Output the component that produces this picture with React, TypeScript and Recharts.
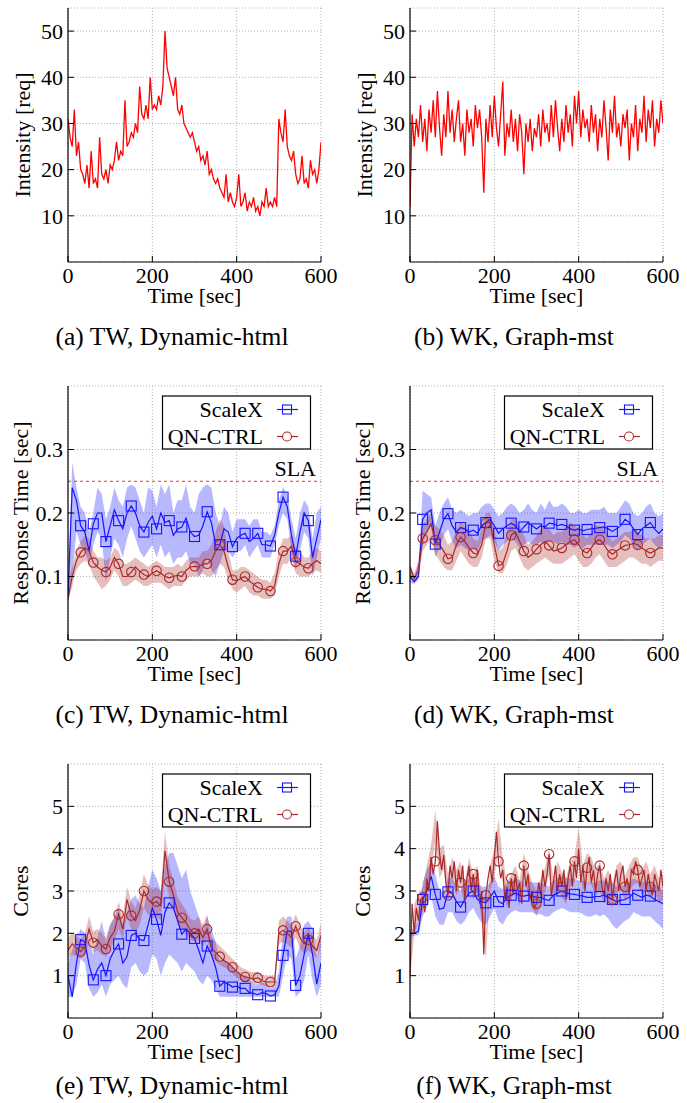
import React from 'react';
import { ComposedChart, Line, Area, XAxis, YAxis, CartesianGrid, ReferenceLine } from 'recharts';

const FONT = '"Liberation Serif", "Times New Roman", serif';
const RED = '#ff0000';
const BLUE = '#1414ff';
const BROWN = '#aa2828';

// x grid of the samples (seconds)
const INT_STEP = 5;
const STEP = 10;
const FINE_STEP = 5;
const X_TICKS = [0, 200, 400, 600];
const SLA = 0.25;

// (a) / (b) request intensity, one value every 5 s
const twIntensity = [
  31, 27, 25, 33, 23, 26, 20, 19, 17, 21,
  16, 24, 17, 18, 16, 27, 19, 18, 20, 17,
  21, 20, 22, 26, 22, 24, 23, 35, 25, 26,
  28, 27, 30, 28, 38, 32, 31, 34, 31, 40,
  33, 34, 33, 36, 34, 38, 50, 42, 40, 38,
  36, 40, 33, 32, 34, 30, 29, 28, 27, 28,
  26, 24, 25, 22, 23, 21, 24, 19, 20, 18,
  17, 18, 16, 15, 14, 19, 13, 15, 13, 12,
  14, 19, 12, 13, 15, 11, 13, 12, 14, 11,
  12, 10, 13, 12, 16, 12, 13, 12, 14, 12,
  31, 28, 26, 33, 25, 23, 22, 24, 19, 17,
  18, 23, 17, 18, 16, 22, 19, 20, 17, 20,
  26,
];
const wkIntensity = [
  12, 32, 25, 31, 27, 34, 26, 31, 24, 33,
  28, 35, 27, 37, 29, 23, 32, 27, 37, 28,
  33, 26, 31, 35, 26, 30, 23, 33, 28, 31,
  25, 34, 29, 33, 27, 15, 31, 26, 34, 27,
  36, 29, 25, 32, 39, 23, 30, 27, 33, 26,
  31, 24, 32, 28, 19, 30, 26, 31, 24, 29,
  27, 32, 25, 33, 28, 30, 26, 34, 27, 35,
  29, 24, 31, 26, 34, 28, 32, 25, 36, 30,
  37, 27, 33, 29, 31, 26, 34, 28, 32, 24,
  31, 27, 35, 29, 22, 33, 28, 36, 27, 30,
  25, 32, 29, 33, 22, 30, 27, 34, 24, 31,
  28, 36, 26, 33, 29, 35, 25, 31, 28, 35,
  30,
];

// (c) TW response time, one value every 10 s
const twRtSx = [
  0.07, 0.24, 0.22, 0.18, 0.17, 0.14, 0.183, 0.2, 0.2, 0.155,
  0.18, 0.205, 0.188, 0.175, 0.2, 0.211, 0.2, 0.18, 0.17, 0.185,
  0.195, 0.175, 0.2, 0.185, 0.188, 0.165, 0.175, 0.178, 0.192, 0.17,
  0.163, 0.165, 0.18, 0.202, 0.185, 0.15, 0.15, 0.175, 0.17, 0.147,
  0.16, 0.165, 0.168, 0.155, 0.16, 0.168, 0.15, 0.15, 0.148, 0.165,
  0.2, 0.225, 0.21, 0.165, 0.132, 0.17, 0.2, 0.188, 0.13, 0.16,
  0.19,
];
const twRtSxLo = [
  0.06, 0.1, 0.17, 0.15, 0.14, 0.12, 0.15, 0.17, 0.16, 0.09,
  0.13, 0.16, 0.15, 0.13, 0.16, 0.18, 0.16, 0.14, 0.13, 0.14,
  0.15, 0.13, 0.15, 0.13, 0.14, 0.12, 0.13, 0.13, 0.14, 0.12,
  0.12, 0.1, 0.11, 0.13, 0.11, 0.1, 0.12, 0.14, 0.14, 0.13,
  0.14, 0.14, 0.15, 0.13, 0.14, 0.15, 0.13, 0.13, 0.13, 0.15,
  0.18, 0.2, 0.19, 0.14, 0.11, 0.14, 0.17, 0.16, 0.1, 0.13,
  0.16,
];
const twRtSxHi = [
  0.08, 0.28, 0.24, 0.21, 0.2, 0.17, 0.2, 0.24, 0.23, 0.19,
  0.21, 0.24, 0.22, 0.21, 0.24, 0.245, 0.24, 0.22, 0.2, 0.24,
  0.235, 0.21, 0.245, 0.23, 0.245, 0.2, 0.22, 0.22, 0.245, 0.21,
  0.2, 0.23, 0.24, 0.245, 0.24, 0.2, 0.18, 0.21, 0.2, 0.17,
  0.19, 0.19, 0.19, 0.18, 0.19, 0.19, 0.17, 0.17, 0.165, 0.18,
  0.22, 0.24, 0.23, 0.19, 0.16, 0.2, 0.22, 0.21, 0.16, 0.2,
  0.21,
];
const twRtQn = [
  0.065, 0.1, 0.125, 0.138, 0.145, 0.14, 0.122, 0.115, 0.11, 0.107,
  0.115, 0.13, 0.12, 0.1, 0.1, 0.107, 0.115, 0.108, 0.103, 0.1,
  0.105, 0.109, 0.105, 0.1, 0.098, 0.1, 0.102, 0.1, 0.11, 0.115,
  0.116, 0.115, 0.12, 0.12, 0.125, 0.14, 0.15, 0.14, 0.115, 0.095,
  0.093, 0.097, 0.1, 0.093, 0.088, 0.083, 0.08, 0.08, 0.077, 0.085,
  0.12, 0.14, 0.14, 0.148, 0.123, 0.12, 0.115, 0.113, 0.12, 0.125,
  0.12,
];
const twRtQnLo = [
  0.06, 0.085, 0.11, 0.12, 0.125, 0.12, 0.1, 0.09, 0.08, 0.085,
  0.095, 0.11, 0.1, 0.085, 0.085, 0.09, 0.095, 0.09, 0.085, 0.085,
  0.09, 0.09, 0.09, 0.085, 0.08, 0.085, 0.085, 0.085, 0.095, 0.1,
  0.1, 0.1, 0.105, 0.1, 0.1, 0.11, 0.12, 0.115, 0.095, 0.08,
  0.075, 0.08, 0.085, 0.075, 0.07, 0.07, 0.065, 0.065, 0.065, 0.07,
  0.1, 0.12, 0.12, 0.13, 0.105, 0.1, 0.1, 0.1, 0.105, 0.11,
  0.105,
];
const twRtQnHi = [
  0.09, 0.115, 0.14, 0.155, 0.165, 0.16, 0.14, 0.13, 0.13, 0.125,
  0.13, 0.145, 0.14, 0.12, 0.12, 0.125, 0.13, 0.125, 0.12, 0.115,
  0.12, 0.125, 0.12, 0.115, 0.115, 0.115, 0.12, 0.115, 0.125, 0.13,
  0.13, 0.13, 0.14, 0.14, 0.15, 0.17, 0.19, 0.18, 0.14, 0.11,
  0.11, 0.115, 0.115, 0.11, 0.105, 0.1, 0.095, 0.095, 0.09, 0.105,
  0.14, 0.16, 0.16, 0.165, 0.145, 0.14, 0.13, 0.13, 0.14, 0.145,
  0.14,
];

// (d) WK response time
const wkRtSx = [
  0.1, 0.092, 0.1, 0.19, 0.2, 0.205, 0.151, 0.17, 0.19, 0.199,
  0.18, 0.17, 0.177, 0.175, 0.17, 0.173, 0.168, 0.18, 0.185, 0.19,
  0.18, 0.168, 0.175, 0.18, 0.184, 0.18, 0.17, 0.178, 0.185, 0.18,
  0.175, 0.18, 0.178, 0.184, 0.183, 0.18, 0.182, 0.18, 0.175, 0.173,
  0.175, 0.172, 0.174, 0.175, 0.176, 0.177, 0.178, 0.175, 0.171, 0.175,
  0.18, 0.19, 0.185, 0.175, 0.166, 0.175, 0.18, 0.185, 0.175, 0.168,
  0.175,
];
const wkRtSxLo = [
  0.09, 0.088, 0.095, 0.15, 0.17, 0.18, 0.13, 0.145, 0.165, 0.175,
  0.155, 0.145, 0.15, 0.145, 0.14, 0.145, 0.14, 0.155, 0.16, 0.165,
  0.155, 0.14, 0.15, 0.155, 0.16, 0.155, 0.145, 0.15, 0.155, 0.15,
  0.15, 0.155, 0.15, 0.155, 0.155, 0.15, 0.155, 0.15, 0.15, 0.145,
  0.15, 0.145, 0.15, 0.15, 0.15, 0.15, 0.15, 0.15, 0.145, 0.15,
  0.155, 0.165, 0.16, 0.15, 0.14, 0.15, 0.155, 0.16, 0.15, 0.145,
  0.15,
];
const wkRtSxHi = [
  0.11, 0.1, 0.12, 0.235, 0.23, 0.225, 0.18, 0.2, 0.215, 0.225,
  0.205, 0.2, 0.205, 0.2, 0.195, 0.2, 0.2, 0.21, 0.215, 0.215,
  0.205, 0.195, 0.2, 0.21, 0.215, 0.21, 0.2, 0.205, 0.215, 0.205,
  0.2, 0.215, 0.205, 0.22, 0.21, 0.21, 0.215, 0.21, 0.2, 0.2,
  0.205, 0.2, 0.2, 0.205, 0.205, 0.205, 0.21, 0.2, 0.2, 0.2,
  0.21, 0.22, 0.215, 0.2, 0.195, 0.2, 0.21, 0.215, 0.2, 0.195,
  0.2,
];
const wkRtQn = [
  0.115, 0.097, 0.11, 0.16, 0.17, 0.183, 0.157, 0.15, 0.14, 0.128,
  0.13, 0.15, 0.162, 0.155, 0.145, 0.137, 0.135, 0.15, 0.184, 0.185,
  0.15, 0.117, 0.12, 0.14, 0.165, 0.17, 0.155, 0.14, 0.13, 0.135,
  0.143, 0.15, 0.155, 0.149, 0.14, 0.142, 0.145, 0.15, 0.155, 0.158,
  0.15, 0.14, 0.137, 0.145, 0.155, 0.158, 0.15, 0.14, 0.135, 0.14,
  0.145, 0.149, 0.15, 0.152, 0.15, 0.145, 0.14, 0.137, 0.14, 0.145,
  0.145,
];
const wkRtQnLo = [
  0.1, 0.09, 0.1, 0.14, 0.15, 0.16, 0.135, 0.125, 0.115, 0.11,
  0.11, 0.125, 0.14, 0.13, 0.12, 0.115, 0.115, 0.13, 0.16, 0.16,
  0.125, 0.105, 0.105, 0.12, 0.14, 0.145, 0.13, 0.115, 0.11, 0.115,
  0.12, 0.125, 0.13, 0.125, 0.12, 0.12, 0.12, 0.125, 0.13, 0.135,
  0.125, 0.115, 0.115, 0.12, 0.13, 0.135, 0.125, 0.115, 0.115, 0.115,
  0.12, 0.125, 0.13, 0.13, 0.125, 0.12, 0.12, 0.115, 0.12, 0.125,
  0.125,
];
const wkRtQnHi = [
  0.12, 0.105, 0.125, 0.18, 0.19, 0.2, 0.18, 0.175, 0.165, 0.15,
  0.155, 0.175, 0.185, 0.18, 0.17, 0.16, 0.155, 0.175, 0.2, 0.2,
  0.175, 0.14, 0.145, 0.17, 0.19, 0.19, 0.18, 0.165, 0.15, 0.155,
  0.165, 0.175, 0.18, 0.175, 0.165, 0.17, 0.17, 0.18, 0.185, 0.18,
  0.175, 0.165, 0.16, 0.17, 0.18, 0.18, 0.175, 0.165, 0.155, 0.16,
  0.165, 0.17, 0.17, 0.175, 0.17, 0.165, 0.16, 0.16, 0.16, 0.165,
  0.165,
];

// (e) TW cores
const twCoSx = [
  1.0, 0.5, 1.3, 1.85, 1.8, 1.25, 0.9, 1.15, 1.3, 1.0,
  1.4, 1.6, 1.75, 1.3, 1.45, 1.95, 2.0, 1.85, 1.83, 2.2,
  2.6, 2.33, 1.95, 2.5, 2.72, 2.6, 2.3, 1.98, 2.1, 2.0,
  1.88, 1.6, 1.3, 1.7, 1.5, 1.2, 0.75, 0.85, 0.8, 0.73,
  0.75, 0.7, 0.7, 0.6, 0.58, 0.55, 0.6, 0.58, 0.52, 0.55,
  0.75, 1.48, 2.05, 2.05, 0.77, 1.0, 1.5, 2.0, 1.5, 0.8,
  1.3,
];
const twCoSxLo = [
  0.5, 0.5, 0.8, 1.4, 1.3, 0.7, 0.5, 0.6, 0.8, 0.5,
  0.8, 0.9, 1.0, 0.8, 0.7, 1.2, 1.3, 1.1, 1.0, 1.1,
  1.5, 1.4, 1.0, 1.3, 1.5, 1.4, 1.3, 1.1, 1.3, 1.2,
  1.1, 0.9, 0.8, 1.0, 0.9, 0.7, 0.5, 0.5, 0.5, 0.5,
  0.5, 0.5, 0.5, 0.5, 0.5, 0.5, 0.5, 0.5, 0.5, 0.5,
  0.5, 1.0, 1.5, 1.4, 0.5, 0.6, 0.9, 1.5, 0.9, 0.5,
  0.8,
];
const twCoSxHi = [
  1.3, 1.6, 1.9, 2.1, 2.0, 1.8, 1.5, 1.9, 2.3, 1.8,
  2.2, 2.4, 2.6, 2.2, 2.5, 2.8, 2.9, 2.7, 2.6, 3.1,
  3.5, 3.3, 3.0, 3.6, 3.9, 3.9, 3.6, 3.3, 3.5, 3.0,
  2.7, 2.4, 2.0, 2.4, 2.1, 1.8, 1.3, 1.4, 1.3, 1.2,
  1.1, 1.0, 1.0, 0.9, 0.8, 0.8, 0.85, 0.8, 0.7, 0.75,
  1.1, 2.0, 2.4, 2.4, 1.4, 1.7, 2.2, 2.3, 2.1, 1.4,
  1.9,
];
const twCoQn = [
  1.6, 1.75, 1.65, 1.57, 1.7, 2.1, 1.78, 1.85, 1.7, 1.63,
  1.9, 2.05, 2.45, 2.1, 2.8, 2.42, 2.3, 2.55, 3.0, 2.8,
  2.7, 2.75, 2.65, 3.95, 3.22, 2.9, 2.5, 2.37, 2.25, 2.08,
  2.0, 2.1, 1.9, 2.1, 1.65, 1.55, 1.45, 1.35, 1.3, 1.2,
  1.1, 1.02, 0.97, 0.95, 0.92, 0.95, 0.88, 0.85, 0.85, 0.85,
  2.0, 2.07, 2.0, 1.9, 2.17, 1.9, 1.75, 1.85, 1.7, 1.6,
  1.95,
];
const twCoQnLo = [
  1.4, 1.5, 1.45, 1.4, 1.5, 1.8, 1.55, 1.6, 1.5, 1.45,
  1.65, 1.8, 2.1, 1.85, 2.4, 2.1, 2.0, 2.2, 2.6, 2.45,
  2.35, 2.4, 2.3, 3.4, 2.85, 2.55, 2.2, 2.1, 2.0, 1.85,
  1.8, 1.85, 1.7, 1.85, 1.45, 1.35, 1.25, 1.2, 1.15, 1.05,
  0.95, 0.9, 0.85, 0.85, 0.8, 0.82, 0.78, 0.75, 0.75, 0.75,
  1.75, 1.8, 1.75, 1.65, 1.9, 1.65, 1.5, 1.6, 1.5, 1.4,
  1.7,
];
const twCoQnHi = [
  1.9, 2.0, 1.95, 1.85, 2.0, 2.4, 2.05, 2.1, 2.0, 1.9,
  2.2, 2.35, 2.75, 2.4, 3.1, 2.75, 2.6, 2.9, 3.4, 3.15,
  3.05, 3.1, 3.0, 4.4, 3.6, 3.25, 2.85, 2.7, 2.55, 2.35,
  2.3, 2.4, 2.2, 2.45, 1.9, 1.8, 1.7, 1.6, 1.5, 1.4,
  1.3, 1.2, 1.15, 1.1, 1.08, 1.1, 1.02, 1.0, 1.0, 1.0,
  2.3, 2.4, 2.3, 2.2, 2.45, 2.2, 2.0, 2.15, 1.95, 1.85,
  2.25,
];

// (f) WK cores
const wkCoSx = [
  2.0, 2.0, 2.05, 2.8, 3.0, 3.35, 2.92, 2.57, 2.6, 2.98,
  2.95, 2.75, 2.62, 2.8, 2.95, 3.0, 2.8, 2.75, 2.72, 2.85,
  3.0, 2.75, 2.7, 2.85, 2.9, 2.95, 2.9, 2.88, 2.9, 2.88,
  2.85, 2.85, 2.8, 2.78, 2.9, 2.95, 3.0, 2.95, 2.93, 2.92,
  2.9, 2.88, 2.85, 2.85, 2.87, 2.87, 2.9, 2.85, 2.8, 2.75,
  2.78, 2.8, 2.85, 2.95, 2.9, 2.85, 2.9, 2.88, 2.8, 2.75,
  2.7,
];
const wkCoSxLo = [
  1.9, 1.95, 1.95, 2.4, 2.6, 2.9, 2.4, 2.2, 2.2, 2.5,
  2.5, 2.3, 2.2, 2.3, 2.5, 2.6, 2.4, 2.25, 2.2, 2.4,
  2.6, 2.3, 2.2, 2.4, 2.5, 2.55, 2.5, 2.5, 2.5, 2.5,
  2.45, 2.45, 2.4, 2.4, 2.5, 2.55, 2.6, 2.55, 2.5, 2.5,
  2.5, 2.45, 2.4, 2.4, 2.45, 2.4, 2.45, 2.35, 2.2, 2.1,
  2.2, 2.3, 2.35, 2.5, 2.45, 2.4, 2.4, 2.4, 2.3, 2.2,
  2.1,
];
const wkCoSxHi = [
  2.1, 2.1, 2.3, 3.2, 3.5, 3.7, 3.4, 3.0, 3.0, 3.3,
  3.3, 3.1, 3.0, 3.2, 3.3, 3.35, 3.2, 3.1, 3.1, 3.2,
  3.35, 3.1, 3.05, 3.2, 3.25, 3.3, 3.25, 3.2, 3.25, 3.2,
  3.2, 3.2, 3.15, 3.1, 3.25, 3.3, 3.35, 3.3, 3.3, 3.3,
  3.25, 3.25, 3.2, 3.2, 3.2, 3.25, 3.25, 3.2, 3.2, 3.1,
  3.1, 3.15, 3.2, 3.3, 3.25, 3.2, 3.25, 3.2, 3.15, 3.1,
  3.0,
];
// QN-CTRL cores on WK is very jumpy, so it is read every 5 s
const wkCoQnFine = [
  1.0, 2.7, 2.0, 2.6, 2.3, 2.8, 2.85, 2.5, 3.3, 3.0,
  3.8, 3.4, 3.7, 4.65, 3.9, 3.5, 3.85, 3.2, 2.9, 3.6,
  3.3, 3.7, 3.0, 3.5, 3.2, 3.6, 2.8, 3.3, 3.6, 3.0,
  3.4, 2.9, 3.5, 2.7, 3.0, 1.5, 2.9, 3.3, 3.6, 3.2,
  3.8, 4.4, 3.7, 3.3, 3.5, 2.8, 3.1, 2.6, 3.3, 2.9,
  3.4, 3.0, 3.2, 2.7, 3.6, 3.1, 3.4, 2.8, 3.0, 2.6,
  2.7, 3.2, 2.9, 3.5, 3.1, 3.4, 3.87, 2.9, 3.2, 3.6,
  3.0, 3.4, 3.1, 3.5, 2.8, 3.3, 3.6, 3.1, 3.7, 3.3,
  4.0, 3.2, 3.6, 3.0, 3.55, 3.8, 3.2, 3.5, 3.0, 3.4,
  3.6, 3.1, 2.9, 3.3, 3.0, 3.4, 2.8, 3.2, 3.5, 3.0,
  3.4, 3.6, 3.1, 3.3, 2.9, 3.5, 3.4, 3.7, 3.5, 3.1,
  3.3, 3.5, 3.0, 3.4, 3.1, 2.9, 3.4, 3.2, 3.0, 3.5,
  3.1,
];
const wkCoQnLo = [
  0.9, 2.0, 2.3, 2.5, 3.0, 3.4, 4.2, 3.3, 3.5, 2.8,
  3.2, 2.9, 3.1, 2.6, 3.2, 2.8, 3.0, 2.3, 1.4, 3.0,
  3.3, 4.0, 3.2, 2.6, 2.8, 3.0, 2.65, 3.3, 2.9, 2.6,
  2.4, 2.7, 2.95, 3.4, 2.7, 3.1, 2.85, 2.7, 3.1, 3.2,
  3.6, 3.0, 3.2, 3.15, 2.9, 3.0, 2.7, 2.85, 2.6, 2.95,
  3.05, 2.75, 3.0, 3.15, 3.2, 2.9, 3.05, 2.8, 3.0, 2.7,
  2.8,
];
const wkCoQnHi = [
  1.2, 2.7, 2.9, 3.1, 3.6, 4.1, 4.9, 4.0, 4.1, 3.4,
  3.8, 3.5, 3.7, 3.2, 3.8, 3.4, 3.6, 2.9, 2.0, 3.6,
  4.0, 4.7, 3.8, 3.2, 3.4, 3.6, 3.25, 3.9, 3.5, 3.2,
  3.0, 3.3, 3.55, 4.0, 3.3, 3.7, 3.45, 3.3, 3.7, 3.8,
  4.5, 3.6, 3.9, 3.8, 3.5, 3.7, 3.3, 3.5, 3.2, 3.6,
  3.7, 3.35, 3.6, 3.8, 3.8, 3.5, 3.7, 3.4, 3.6, 3.3,
  3.4,
];

const intensityRows = (vals: number[]) => vals.map((v, i) => ({ t: i * INT_STEP, v }));

const compareRows = (
  sx: number[], sxLo: number[], sxHi: number[],
  qn: number[] | null, qnLo: number[], qnHi: number[],
) =>
  sx.map((v, i) => ({
    t: i * STEP,
    sx: v,
    sxBand: [sxLo[i], sxHi[i]],
    qn: qn ? qn[i] : undefined,
    qnBand: [qnLo[i], qnHi[i]],
  }));

const fineRows = (vals: number[]) => vals.map((v, i) => ({ t: i * FINE_STEP, qn: v }));

// markers every 30 s (every n-th sample), as gnuplot's pointinterval does
const makeSquareDot = (n: number, last: number) => (p: any) => {
  const { cx, cy, index } = p;
  if (index <= 0 || index >= last || index % n !== 0 || cx == null || cy == null) return <g key={`sq-${index}`} />;
  return (
    <rect key={`sq-${index}`} x={cx - 5} y={cy - 5} width={10} height={10}
      fill="none" stroke={BLUE} strokeWidth={1.1} />
  );
};

const makeCircleDot = (n: number, last: number) => (p: any) => {
  const { cx, cy, index } = p;
  if (index <= 0 || index >= last || index % n !== 0 || cx == null || cy == null) return <g key={`ci-${index}`} />;
  return <circle key={`ci-${index}`} cx={cx} cy={cy} r={4.7} fill="none" stroke={BROWN} strokeWidth={1.1} />;
};

const squareDot = makeSquareDot(3, 60);
const circleDot = makeCircleDot(3, 60);
const circleDotFine = makeCircleDot(6, 120);

const LegendBox = () => (
  <svg width={154} height={58} style={{ position: 'absolute', left: 160, top: 16 }}>
    <rect x={2.5} y={2} width={148} height={53} fill="#fff" stroke="#000" strokeWidth={1.2} />
    <text x={103} y={23} textAnchor="end" fontSize={22} fontFamily={FONT} fill="#000">ScaleX</text>
    <line x1={117} x2={138} y1={15.5} y2={15.5} stroke={BLUE} strokeWidth={1.2} />
    <rect x={122.5} y={11} width={9} height={9} fill="none" stroke={BLUE} strokeWidth={1.1} />
    <text x={103} y={50} textAnchor="end" fontSize={22} fontFamily={FONT} fill="#000">QN-CTRL</text>
    <line x1={117} x2={138} y1={42.5} y2={42.5} stroke={BROWN} strokeWidth={1.2} />
    <circle cx={127} cy={42.5} r={4.5} fill="#fff" stroke={BROWN} strokeWidth={1.1} />
  </svg>
);

interface PanelProps {
  left: number;
  top: number;
  caption: string;
  captionTop: number;
  yLabel: string;
  yLabelOffset: number;
  yDomain: [number, number];
  yTicks: number[];
  rows: any[];
  kind: 'intensity' | 'compare';
  qnFine?: any[];
  sla?: boolean;
}

const tickStyle = { fill: '#000', fontSize: 22, fontFamily: FONT };

const Panel = ({ left, top, caption, captionTop, yLabel, yLabelOffset, yDomain, yTicks, rows, kind, qnFine, sla }: PanelProps) => (
  <div style={{ position: 'absolute', left, top, width: 342, height: 378 }}>
    <ComposedChart width={342} height={312} data={rows} margin={{ top: 8, right: 21, bottom: 0, left: 0 }}>
      <CartesianGrid stroke="#b0b0b0" strokeDasharray="1 2" />
      <XAxis dataKey="t" type="number" domain={[0, 600]} ticks={X_TICKS} interval={0}
        allowDataOverflow height={50} tickSize={-6} tickMargin={11}
        axisLine={{ stroke: '#000', strokeWidth: 1.2 }} tickLine={{ stroke: '#000' }} tick={tickStyle}
        label={{ value: 'Time [sec]', position: 'insideBottom', offset: 9, fill: '#000', fontSize: 22, fontFamily: FONT }} />
      <XAxis xAxisId="top" orientation="top" type="number" domain={[0, 600]} ticks={X_TICKS} interval={0}
        height={0} tickSize={-6} tickFormatter={() => ''}
        axisLine={{ stroke: '#000', strokeWidth: 1.2 }} tickLine={{ stroke: '#000' }} />
      <YAxis type="number" domain={yDomain} ticks={yTicks} interval={0} allowDataOverflow
        width={68} tickSize={-6} tickMargin={11}
        axisLine={{ stroke: '#000', strokeWidth: 1.2 }} tickLine={{ stroke: '#000' }} tick={tickStyle}
        label={{ value: yLabel, angle: -90, position: 'insideLeft', offset: yLabelOffset,
          style: { textAnchor: 'middle' }, fill: '#000', fontSize: 22, fontFamily: FONT }} />
      <YAxis yAxisId="right" orientation="right" type="number" domain={yDomain} ticks={yTicks} interval={0}
        width={0} tickSize={-6} tickFormatter={() => ''}
        axisLine={{ stroke: '#000', strokeWidth: 1.2 }} tickLine={{ stroke: '#000' }} />
      {sla && (
        <ReferenceLine y={SLA} stroke="#e8383c" strokeWidth={1} strokeDasharray="3 3"
          label={{ value: 'SLA', position: 'insideBottomRight', offset: 5, fill: '#000', fontSize: 22, fontFamily: FONT }} />
      )}
      {kind === 'intensity' && (
        <Line dataKey="v" type="linear" stroke={RED} strokeWidth={1.3} dot={false} isAnimationActive={false} />
      )}
      {kind === 'compare' && (
        <Area dataKey="sxBand" type="linear" stroke="none" fill={BLUE} fillOpacity={0.3} isAnimationActive={false} />
      )}
      {kind === 'compare' && (
        <Line dataKey="sx" type="linear" stroke={BLUE} strokeWidth={1.2} dot={squareDot} isAnimationActive={false} />
      )}
      {kind === 'compare' && (
        <Area dataKey="qnBand" type="linear" stroke="none" fill={BROWN} fillOpacity={0.3} isAnimationActive={false} />
      )}
      {kind === 'compare' && !qnFine && (
        <Line dataKey="qn" type="linear" stroke={BROWN} strokeWidth={1.2} dot={circleDot} isAnimationActive={false} />
      )}
      {kind === 'compare' && qnFine && (
        <Line data={qnFine} dataKey="qn" type="linear" stroke={BROWN} strokeWidth={1.2} dot={circleDotFine} isAnimationActive={false} />
      )}
    </ComposedChart>
    {kind === 'compare' && <LegendBox />}
    <div style={{ position: 'absolute', left: 0, top: captionTop, width: 344, textAlign: 'center',
      fontSize: 25.5, lineHeight: '25px', fontFamily: FONT, color: '#000', whiteSpace: 'nowrap' }}>
      {caption}
    </div>
  </div>
);

const ROW_TOPS = [0, 378, 756];
const COL_LEFTS = [0, 342];
const CAPTION_TOPS = [324, 324, 317];

export default function App() {
  const rtDomain: [number, number] = [0, 0.4];
  const coDomain: [number, number] = [0, 6];
  const inDomain: [number, number] = [0, 55];
  return (
    <div style={{ position: 'relative', width: 687, height: 1103, background: '#fff', overflow: 'hidden', fontFamily: FONT }}>
      <style>{'body{margin:0}'}</style>
      <Panel left={COL_LEFTS[0]} top={ROW_TOPS[0]} captionTop={CAPTION_TOPS[0]} caption="(a) TW, Dynamic-html"
        yLabel="Intensity [req]" yLabelOffset={22} yDomain={inDomain} yTicks={[10, 20, 30, 40, 50]} kind="intensity"
        rows={intensityRows(twIntensity)} />
      <Panel left={COL_LEFTS[1]} top={ROW_TOPS[0]} captionTop={CAPTION_TOPS[0]} caption="(b) WK, Graph-mst"
        yLabel="Intensity [req]" yLabelOffset={22} yDomain={inDomain} yTicks={[10, 20, 30, 40, 50]} kind="intensity"
        rows={intensityRows(wkIntensity)} />
      <Panel left={COL_LEFTS[0]} top={ROW_TOPS[1]} captionTop={CAPTION_TOPS[1]} caption="(c) TW, Dynamic-html"
        yLabel="Response Time [sec]" yLabelOffset={20} yDomain={rtDomain} yTicks={[0.1, 0.2, 0.3]} kind="compare" sla
        rows={compareRows(twRtSx, twRtSxLo, twRtSxHi, twRtQn, twRtQnLo, twRtQnHi)} />
      <Panel left={COL_LEFTS[1]} top={ROW_TOPS[1]} captionTop={CAPTION_TOPS[1]} caption="(d) WK, Graph-mst"
        yLabel="Response Time [sec]" yLabelOffset={20} yDomain={rtDomain} yTicks={[0.1, 0.2, 0.3]} kind="compare" sla
        rows={compareRows(wkRtSx, wkRtSxLo, wkRtSxHi, wkRtQn, wkRtQnLo, wkRtQnHi)} />
      <Panel left={COL_LEFTS[0]} top={ROW_TOPS[2]} captionTop={CAPTION_TOPS[2]} caption="(e) TW, Dynamic-html"
        yLabel="Cores" yLabelOffset={20} yDomain={coDomain} yTicks={[1, 2, 3, 4, 5]} kind="compare"
        rows={compareRows(twCoSx, twCoSxLo, twCoSxHi, twCoQn, twCoQnLo, twCoQnHi)} />
      <Panel left={COL_LEFTS[1]} top={ROW_TOPS[2]} captionTop={CAPTION_TOPS[2]} caption="(f) WK, Graph-mst"
        yLabel="Cores" yLabelOffset={20} yDomain={coDomain} yTicks={[1, 2, 3, 4, 5]} kind="compare"
        rows={compareRows(wkCoSx, wkCoSxLo, wkCoSxHi, null, wkCoQnLo, wkCoQnHi)}
        qnFine={fineRows(wkCoQnFine)} />
    </div>
  );
}
